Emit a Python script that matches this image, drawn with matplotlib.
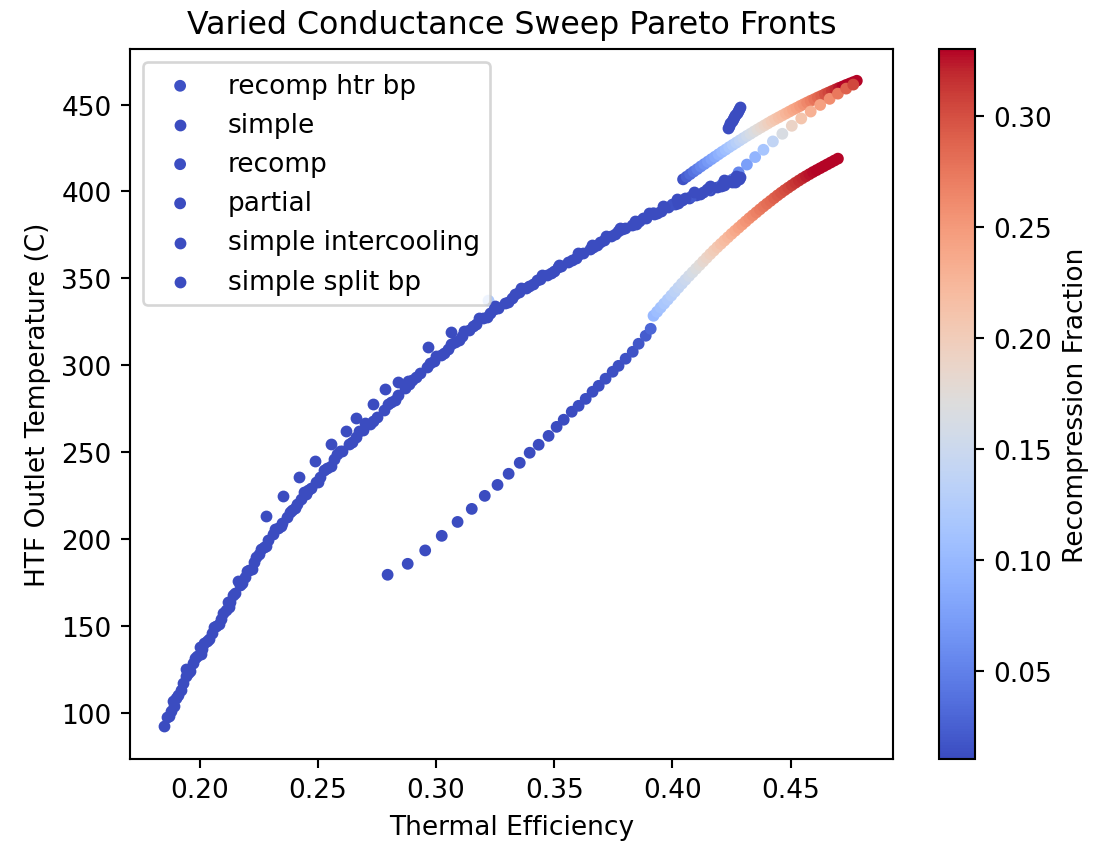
#!/usr/bin/env python3
"""Pareto fronts of the varied conductance sweep, coloured by recompression fraction."""
import matplotlib
matplotlib.use("Agg")
import matplotlib.pyplot as plt
from matplotlib.colors import Normalize

DPI = 190
CMAP = plt.cm.coolwarm
RC_MIN, RC_MAX = 0.0104, 0.330

# recomp htr bp -- upper front, recompression fraction rising along it
HTR_BP_EFF = [0.4045, 0.4060, 0.4075, 0.4090, 0.4105, 0.4120, 0.4135, 0.4150, 0.4165, 0.4180,
              0.4195, 0.4210, 0.4225, 0.4240, 0.4255, 0.4270, 0.4285, 0.4300, 0.4315, 0.4330,
              0.4345, 0.4360, 0.4375, 0.4390, 0.4405, 0.4420, 0.4435, 0.4450, 0.4465, 0.4480,
              0.4495, 0.4510, 0.4525, 0.4540, 0.4555, 0.4570, 0.4585, 0.4600, 0.4615, 0.4630,
              0.4645, 0.4660, 0.4675, 0.4690, 0.4705, 0.4720, 0.4735, 0.4750, 0.4765, 0.4780]
HTR_BP_T = [407.0, 408.5, 410.0, 411.5, 412.9, 414.4, 415.8, 417.2, 418.6, 420.0,
            421.4, 422.8, 424.1, 425.5, 426.8, 428.1, 429.4, 430.7, 432.0, 433.2,
            434.5, 435.7, 436.9, 438.1, 439.3, 440.5, 441.6, 442.7, 443.8, 444.9,
            446.0, 447.1, 448.1, 449.2, 450.2, 451.2, 452.2, 453.1, 454.1, 455.0,
            456.0, 456.9, 457.8, 458.7, 459.6, 460.4, 461.3, 462.1, 462.9, 463.7]
HTR_BP_RC = [0.015, 0.025, 0.032, 0.040, 0.047, 0.055, 0.062, 0.070, 0.077, 0.085,
             0.092, 0.100, 0.107, 0.115, 0.122, 0.130, 0.137, 0.145, 0.152, 0.160,
             0.167, 0.174, 0.181, 0.188, 0.195, 0.202, 0.208, 0.214, 0.220, 0.226,
             0.232, 0.238, 0.243, 0.249, 0.256, 0.263, 0.270, 0.277, 0.284, 0.291,
             0.298, 0.305, 0.312, 0.318, 0.324, 0.330, 0.330, 0.330, 0.330, 0.330]

# simple -- main front
SIMPLE_EFF = [0.185, 0.187, 0.189, 0.191, 0.193, 0.195, 0.197, 0.199, 0.201, 0.203,
              0.205, 0.207, 0.209, 0.211, 0.213, 0.215, 0.217, 0.219, 0.221, 0.223,
              0.225, 0.227, 0.229, 0.231, 0.233, 0.235, 0.237, 0.239, 0.241, 0.243,
              0.245, 0.247, 0.249, 0.251, 0.254, 0.257, 0.260, 0.263, 0.266, 0.269,
              0.272, 0.275, 0.278, 0.281, 0.284, 0.287, 0.290, 0.293, 0.296, 0.299,
              0.302, 0.305, 0.308, 0.311, 0.314, 0.317, 0.320, 0.323, 0.326, 0.329,
              0.332, 0.335, 0.338, 0.341, 0.344, 0.347, 0.350, 0.353, 0.356, 0.359,
              0.362, 0.365, 0.368, 0.371, 0.374, 0.377, 0.380, 0.383, 0.386, 0.389,
              0.392, 0.395, 0.398, 0.401, 0.404, 0.407, 0.410, 0.413, 0.416, 0.419,
              0.422, 0.425, 0.428]
SIMPLE_T = [92.5, 98.0, 104.0, 110.5, 117.0, 123.0, 128.5, 133.0, 137.0, 141.5,
            146.0, 150.0, 154.0, 159.0, 164.0, 169.0, 173.5, 178.0, 182.5, 187.0,
            191.5, 195.5, 199.5, 203.0, 206.5, 209.5, 213.0, 216.5, 220.0, 223.0,
            226.0, 229.5, 233.0, 236.0, 241.0, 246.0, 250.5, 255.0, 259.0, 263.0,
            266.5, 270.5, 274.5, 279.0, 283.0, 287.0, 291.5, 295.5, 299.0, 302.5,
            306.0, 309.5, 313.5, 317.0, 320.5, 323.5, 327.0, 330.0, 333.0, 336.0,
            339.0, 342.0, 344.5, 347.0, 349.5, 352.0, 354.5, 357.0, 359.5, 362.0,
            364.5, 367.0, 369.5, 372.0, 374.5, 377.0, 379.0, 381.0, 383.0, 385.0,
            387.0, 389.0, 391.0, 393.0, 395.0, 396.5, 398.0, 399.5, 401.0, 402.5,
            404.0, 405.5, 407.0]

# recomp -- runs up the main front, then breaks away as a dotted branch
RECOMP_EFF = [0.392, 0.400, 0.408, 0.3222, 0.415, 0.421, 0.4255, 0.4280, 0.4315, 0.4350,
              0.4385, 0.4425, 0.4465, 0.4505, 0.4545, 0.4585, 0.4625, 0.4665, 0.4700,
              0.4735, 0.4765]
RECOMP_T = [387.5, 392.5, 397.0, 337.2, 401.0, 404.0, 407.0, 411.0, 415.5, 419.8,
            424.0, 428.8, 433.2, 437.8, 442.0, 446.0, 449.8, 453.3, 456.3,
            459.2, 461.5]
RECOMP_RC = [0.012, 0.015, 0.020, 0.120, 0.030, 0.035, 0.040, 0.055, 0.075, 0.095,
             0.115, 0.140, 0.165, 0.190, 0.210, 0.230, 0.245, 0.260, 0.275,
             0.290, 0.305]

# partial -- lower front
PARTIAL_EFF = [0.2795, 0.2880, 0.2954, 0.3024, 0.3091, 0.3151, 0.3206, 0.3260, 0.3307, 0.3354,
               0.3396, 0.3434, 0.3476, 0.3510, 0.3540, 0.3574, 0.3603, 0.3633, 0.3662, 0.3688,
               0.3717, 0.3747, 0.3772, 0.3802, 0.3832, 0.3857, 0.3887, 0.3908,
               0.3920, 0.3935, 0.3950, 0.3965, 0.3980, 0.3995, 0.4010, 0.4025, 0.4040, 0.4055,
               0.4070, 0.4085, 0.4100, 0.4115, 0.4130, 0.4145, 0.4160, 0.4175, 0.4190, 0.4205,
               0.4220, 0.4235, 0.4250, 0.4265, 0.4280, 0.4295, 0.4310, 0.4325, 0.4340, 0.4355,
               0.4370, 0.4385, 0.4400, 0.4415, 0.4430, 0.4445, 0.4460, 0.4475, 0.4490, 0.4505,
               0.4520, 0.4535, 0.4550, 0.4565, 0.4580, 0.4595, 0.4610, 0.4625, 0.4640, 0.4655,
               0.4670, 0.4685, 0.4700]
PARTIAL_T = [179.5, 185.8, 193.5, 201.9, 209.9, 217.4, 224.9, 231.2, 237.6, 243.9,
             249.7, 254.3, 259.4, 264.6, 268.7, 273.3, 276.7, 280.7, 284.8, 288.2,
             292.3, 296.3, 299.7, 303.8, 307.8, 312.4, 317.0, 321.0,
             328.5, 330.8, 333.2, 335.5, 337.8, 340.1, 342.4, 344.7, 347.0, 349.2,
             351.4, 353.5, 355.6, 357.7, 359.8, 361.9, 364.0, 366.0, 368.0, 369.9,
             371.8, 373.7, 375.6, 377.4, 379.2, 381.0, 382.8, 384.6, 386.3, 388.0,
             389.7, 391.4, 393.0, 394.6, 396.2, 397.8, 399.3, 400.8, 402.2, 403.6,
             405.0, 406.3, 407.6, 408.8, 410.0, 411.2, 412.3, 413.4, 414.5, 415.6,
             416.7, 417.8, 418.9]
PARTIAL_RC = [0.011, 0.011, 0.011, 0.011, 0.011, 0.011, 0.011, 0.011, 0.011, 0.011,
              0.011, 0.011, 0.011, 0.011, 0.011, 0.011, 0.012, 0.012, 0.012, 0.012,
              0.013, 0.013, 0.014, 0.015, 0.016, 0.018, 0.022, 0.030,
              0.100, 0.106, 0.111, 0.117, 0.122, 0.128, 0.134, 0.139, 0.145, 0.150,
              0.156, 0.162, 0.168, 0.175, 0.182, 0.188, 0.195, 0.201, 0.207, 0.213,
              0.219, 0.225, 0.231, 0.237, 0.243, 0.248, 0.253, 0.258, 0.263, 0.268,
              0.273, 0.277, 0.281, 0.285, 0.289, 0.293, 0.297, 0.301, 0.305, 0.309,
              0.313, 0.317, 0.320, 0.323, 0.326, 0.328, 0.330, 0.330, 0.330, 0.330,
              0.330, 0.330, 0.330]

# simple intercooling -- scattered along and around the main front
INTERCOOL_EFF = [0.1886, 0.1941, 0.200, 0.212, 0.216, 0.224, 0.2279, 0.2351, 0.2421, 0.244,
                 0.2489, 0.2554, 0.258, 0.2618, 0.2660, 0.270, 0.2732, 0.2783, 0.2838, 0.288,
                 0.2964, 0.300, 0.3062, 0.312, 0.318, 0.325, 0.336, 0.345, 0.352, 0.360,
                 0.366, 0.372, 0.378, 0.384, 0.390, 0.396, 0.402, 0.409, 0.416, 0.422, 0.427,
                 0.186, 0.188, 0.190, 0.192, 0.194, 0.196, 0.198, 0.2005, 0.202, 0.204,
                 0.206, 0.208, 0.210, 0.2125, 0.214, 0.218, 0.220, 0.222, 0.226, 0.228,
                 0.232, 0.2345, 0.238, 0.2405, 0.246, 0.250, 0.2525, 0.2555, 0.2595, 0.2645,
                 0.2675, 0.2735, 0.2795, 0.2825, 0.2885, 0.2915, 0.2975, 0.3035, 0.3065, 0.3095,
                 0.3155, 0.3215, 0.3245, 0.3305, 0.3335, 0.3395, 0.3425, 0.3485, 0.3515, 0.3575,
                 0.3605, 0.3665, 0.3695, 0.3755, 0.3785, 0.3845, 0.3875, 0.3935, 0.3965, 0.4025,
                 0.4055, 0.4115, 0.4145, 0.4205, 0.4235, 0.4265, 0.4285]
INTERCOOL_T = [106.9, 125.3, 138.0, 164.0, 176.0, 190.0, 213.4, 224.9, 235.8, 227.0,
               245.0, 254.5, 249.0, 262.5, 269.5, 267.0, 277.5, 286.5, 290.5, 291.0,
               310.7, 305.5, 319.3, 320.0, 327.0, 334.0, 344.5, 352.0, 358.0, 364.5,
               369.5, 374.5, 379.0, 383.0, 387.5, 391.5, 395.5, 399.5, 403.0, 406.5, 409.0,
               97.5, 101.0, 108.5, 113.0, 121.5, 124.0, 131.5, 134.0, 140.5, 142.5,
               149.5, 151.0, 157.5, 161.0, 168.0, 174.5, 181.5, 183.0, 194.5, 196.0,
               206.0, 207.5, 215.5, 218.0, 228.5, 233.0, 239.5, 242.0, 250.5, 256.0,
               262.0, 268.0, 277.5, 280.0, 289.5, 293.0, 301.5, 307.0, 312.5, 314.5,
               322.5, 328.0, 332.5, 336.5, 341.0, 345.5, 349.0, 353.0, 356.5, 360.5,
               364.0, 368.0, 371.0, 375.5, 378.5, 381.5, 385.0, 387.5, 391.0, 393.5,
               396.5, 398.5, 401.5, 403.0, 406.0, 405.5, 408.5]

# simple split bp -- short steep cluster
SPLIT_BP_EFF = [0.4235, 0.4240, 0.4245, 0.4250, 0.4255, 0.4260, 0.4266, 0.4272, 0.4278, 0.4283, 0.4287]
SPLIT_BP_T = [436.5, 437.9, 439.2, 440.5, 441.8, 443.0, 444.2, 445.4, 446.5, 447.5, 448.5]


def plot():
    fig = plt.figure(figsize=(1109 / DPI, 844 / DPI), dpi=DPI)
    ax = fig.add_axes([0.1172, 0.0995, 0.6880, 0.8413])
    cax = fig.add_axes([0.8467, 0.0995, 0.0324, 0.8413])

    norm = Normalize(vmin=RC_MIN, vmax=RC_MAX)
    base = CMAP(0.0)
    ms = 12

    sc = ax.scatter(HTR_BP_EFF, HTR_BP_T, c=HTR_BP_RC, cmap=CMAP, norm=norm, s=ms,
                    label="recomp htr bp")
    ax.scatter(SIMPLE_EFF, SIMPLE_T, color=base, s=ms, label="simple")
    ax.scatter(RECOMP_EFF, RECOMP_T, c=RECOMP_RC, cmap=CMAP, norm=norm, s=ms,
               label="recomp")
    ax.scatter(PARTIAL_EFF, PARTIAL_T, c=PARTIAL_RC, cmap=CMAP, norm=norm, s=ms,
               label="partial")
    ax.scatter(INTERCOOL_EFF, INTERCOOL_T, color=base, s=ms, label="simple intercooling")
    ax.scatter(SPLIT_BP_EFF, SPLIT_BP_T, color=base, s=ms, label="simple split bp")

    ax.set_xlim(0.1705, 0.4933)
    ax.set_ylim(73.5, 482)
    ax.set_xlabel("Thermal Efficiency")
    ax.set_ylabel("HTF Outlet Temperature (C)")
    ax.set_title("Varied Conductance Sweep Pareto Fronts")
    ax.legend(loc="upper left")

    fig.colorbar(sc, cax=cax, label="Recompression Fraction")

    fig.savefig("out.png", dpi=DPI)


if __name__ == "__main__":
    plot()
